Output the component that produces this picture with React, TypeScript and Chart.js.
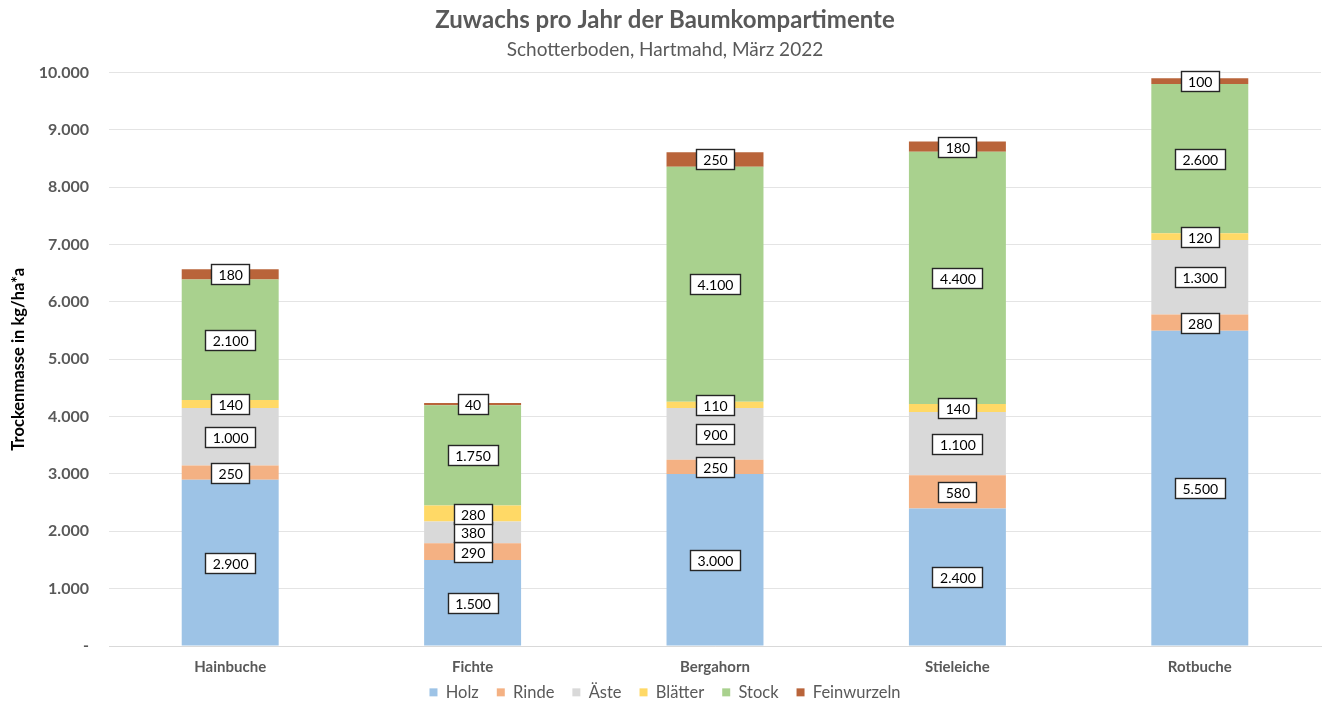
import React, { useEffect, useRef } from "react";
import { Chart, registerables } from "chart.js";

Chart.register(...registerables);

const categories = ["Hainbuche", "Fichte", "Bergahorn", "Stieleiche", "Rotbuche"];
const seriesNames = ["Holz", "Rinde", "Äste", "Blätter", "Stock", "Feinwurzeln"];
const holz = [2900, 1500, 3000, 2400, 5500];
const rinde = [250, 290, 250, 580, 280];
const aeste = [1000, 380, 900, 1100, 1300];
const blaetter = [140, 280, 110, 140, 120];
const stock = [2100, 1750, 4100, 4400, 2600];
const feinwurzeln = [180, 40, 250, 180, 100];
const seriesColors = ["#9DC3E6", "#F4B183", "#D9D9D9", "#FFD966", "#A9D18E", "#B9643A"];
const yTicks = [0, 1000, 2000, 3000, 4000, 5000, 6000, 7000, 8000, 9000, 10000];

const FONT = "Lato, 'Open Sans', sans-serif";
const LEGEND_PAD = 18;
const LEGEND_CENTER_Y = 694;
const LEGEND_FONT = 16.5;

const fmt = (v: number) => (v === 0 ? "-" : v.toLocaleString("de-DE"));

const labelPlugin = {
  id: "boxLabels",
  afterDatasetsDraw(chart: any) {
    const ctx = chart.ctx;
    ctx.save();
    ctx.font = `400 14px ${FONT}`;
    ctx.textAlign = "center";
    ctx.textBaseline = "middle";
    chart.data.datasets.forEach((ds: any, di: number) => {
      const meta = chart.getDatasetMeta(di);
      meta.data.forEach((el: any, i: number) => {
        const v = ds.data[i];
        const text = fmt(v);
        const cx = el.x;
        const cy = (el.y + el.base) / 2;
        const w = Math.round(ctx.measureText(text).width + 14);
        const h = 20;
        const x0 = Math.round(cx - w / 2);
        const y0 = Math.round(cy - h / 2);
        ctx.fillStyle = "#ffffff";
        ctx.fillRect(x0, y0, w, h);
        ctx.strokeStyle = "#262626";
        ctx.lineWidth = 1.4;
        ctx.strokeRect(x0 + 0.5, y0 + 0.5, w, h);
        ctx.fillStyle = "#000000";
        ctx.fillText(text, cx + 0.5, cy + 1.5);
      });
    });
    ctx.restore();
  },
};

// keeps the legend row at its place without pushing the category labels off
const legendPlacePlugin = {
  id: "legendPlace",
  afterLayout(chart: any) {
    const lg = chart.legend;
    if (!lg) return;
    const itemH = LEGEND_FONT * 1.2;
    const current = lg.top + LEGEND_PAD + itemH / 2;
    const dy = LEGEND_CENTER_Y - current;
    lg.top += dy;
    lg.bottom = chart.height;
    lg.height = lg.bottom - lg.top;
  },
};

export default function App() {
  const ref = useRef<HTMLCanvasElement | null>(null);
  useEffect(() => {
    document.body.style.margin = "0";
    const seriesData = [holz, rinde, aeste, blaetter, stock, feinwurzeln];
    const chart = new Chart(ref.current as HTMLCanvasElement, {
      type: "bar",
      data: {
        labels: categories,
        datasets: seriesNames.map((name, k) => ({
          label: name,
          data: seriesData[k],
          backgroundColor: seriesColors[k],
          borderWidth: 0,
          barPercentage: 0.4,
          categoryPercentage: 1,
        })),
      },
      options: {
        animation: false,
        responsive: false,
        maintainAspectRatio: false,
        layout: { padding: { left: 9, right: 3, top: 2, bottom: 0 } },
        plugins: {
          title: {
            display: true,
            text: "Zuwachs pro Jahr der Baumkompartimente",
            color: "#595959",
            font: { family: FONT, size: 24, weight: "bold" },
            padding: { top: 4, bottom: 0 },
          },
          subtitle: {
            display: true,
            text: "Schotterboden, Hartmahd, März 2022",
            color: "#595959",
            font: { family: FONT, size: 19, weight: "normal" },
            padding: { top: 4, bottom: 11 },
          },
          legend: {
            position: "bottom",
            maxHeight: 20,
            labels: {
              boxWidth: 8,
              boxHeight: 8,
              color: "#595959",
              font: { family: FONT, size: LEGEND_FONT },
              padding: LEGEND_PAD,
            },
          },
          tooltip: { enabled: false },
        },
        scales: {
          x: {
            stacked: true,
            grid: { display: false },
            border: { color: "#D9D9D9" },
            ticks: { color: "#595959", font: { family: FONT, size: 15, weight: "bold" }, padding: 4 },
            afterFit: (axis: any) => {
              axis.height = 38;
            },
          },
          y: {
            stacked: true,
            min: 0,
            max: 10000,
            afterBuildTicks: (axis: any) => {
              axis.ticks = yTicks.map((v) => ({ value: v }));
            },
            afterFit: (axis: any) => {
              axis.width = 100;
            },
            grid: { color: "#E4E4E4", drawTicks: false },
            border: { display: false },
            ticks: {
              color: "#595959",
              font: { family: FONT, size: 16, weight: "bold" },
              padding: 20,
              callback: (v: any) => fmt(Number(v)),
            },
            title: {
              display: true,
              text: "Trockenmasse in kg/ha*a",
              color: "#000000",
              font: { family: FONT, size: 16.5, weight: "bold" },
              padding: { top: 0, bottom: 0 },
            },
          },
        },
      },
      plugins: [labelPlugin, legendPlacePlugin],
    });
    return () => chart.destroy();
  }, []);
  return (
    <div style={{ position: "fixed", left: 0, top: 0, width: 1324, height: 704, background: "#fff" }}>
      <canvas ref={ref} width={1324} height={704} style={{ display: "block" }} />
    </div>
  );
}
